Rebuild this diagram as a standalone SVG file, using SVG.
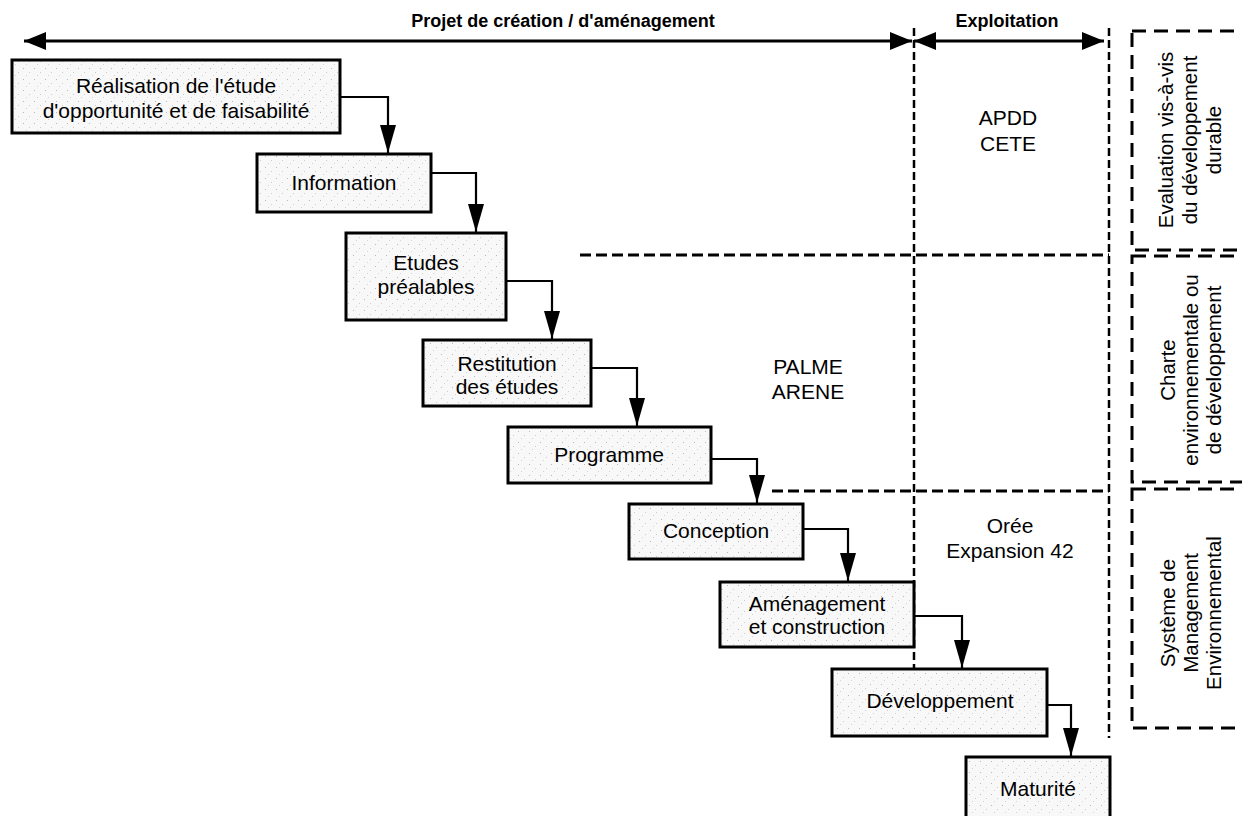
<svg xmlns="http://www.w3.org/2000/svg" width="1242" height="816" viewBox="0 0 1242 816">
<style>
.box{fill:url(#stip);stroke:#000;stroke-width:3}
.t{font-family:"Liberation Sans",Arial,sans-serif;font-size:21px;fill:#000;text-anchor:middle}
.r{font-family:"Liberation Sans",Arial,sans-serif;font-size:20.5px;fill:#000;text-anchor:middle}
.tb{font-family:"Liberation Sans",Arial,sans-serif;font-size:18px;font-weight:bold;fill:#000;text-anchor:middle}
.conn{fill:none;stroke:#000;stroke-width:2.2}
.vd{fill:none;stroke:#000;stroke-width:2.5;stroke-dasharray:8 4}
.hd{fill:none;stroke:#000;stroke-width:3;stroke-dasharray:11 5}
.rd{fill:none;stroke:#000;stroke-width:3;stroke-dasharray:14 8}
.span{fill:none;stroke:#000;stroke-width:3}
</style>
<defs>
<pattern id="stip" width="11" height="11" patternUnits="userSpaceOnUse">
<rect width="11" height="11" fill="#f8f8f8"/>
<rect x="1" y="2" width="1" height="1" fill="#b8b8b8"/>
<rect x="7" y="6" width="1" height="1" fill="#cccccc"/>
<rect x="4" y="9" width="1" height="1" fill="#d4d4d4"/>
</pattern>
<marker id="ah" markerWidth="28" markerHeight="16" refX="28" refY="8" orient="auto" markerUnits="userSpaceOnUse">
<path d="M0,0 L28,8 L0,16 Z" fill="#000"/>
</marker>
<marker id="sh" markerWidth="22" markerHeight="18" refX="22" refY="9" orient="auto-start-reverse" markerUnits="userSpaceOnUse">
<path d="M0,0 L22,9 L0,18 Z" fill="#000"/>
</marker>
</defs>

<g id="phases">
<line class="span" x1="24" y1="41" x2="912" y2="41" marker-start="url(#sh)" marker-end="url(#sh)"/>
<line class="span" x1="914" y1="41" x2="1104" y2="41" marker-start="url(#sh)" marker-end="url(#sh)"/>
<text class="tb" x="563" y="27">Projet de création / d'aménagement</text>
<text class="tb" x="1007" y="27">Exploitation</text>
</g>

<g id="zones">
<line class="vd" x1="914" y1="28" x2="914" y2="668"/>
<line class="vd" x1="1109" y1="28" x2="1109" y2="738"/>
<line class="hd" x1="580" y1="255" x2="1109" y2="255"/>
<line class="hd" x1="772" y1="491" x2="1109" y2="491"/>
<text class="t" x="1008" y="125">APDD</text>
<text class="t" x="1008" y="151">CETE</text>
<text class="t" x="808" y="374">PALME</text>
<text class="t" x="808" y="399">ARENE</text>
<text class="t" x="1010" y="533">Orée</text>
<text class="t" x="1010" y="558">Expansion 42</text>
</g>

<g id="tools">
<g id="tool-evaluation">
<rect class="rd" x="1132" y="31" width="130" height="219"/>
<text class="r" transform="translate(1173,140) rotate(-90)">Evaluation vis-à-vis</text>
<text class="r" transform="translate(1197,140) rotate(-90)">du développement</text>
<text class="r" transform="translate(1221,140) rotate(-90)">durable</text>
</g>
<g id="tool-charte">
<rect class="rd" x="1132" y="256" width="130" height="226"/>
<text class="r" transform="translate(1175,370) rotate(-90)">Charte</text>
<text class="r" transform="translate(1198,370) rotate(-90)">environnementale ou</text>
<text class="r" transform="translate(1221,370) rotate(-90)">de développement</text>
</g>
<g id="tool-sme">
<rect class="rd" x="1132" y="489" width="130" height="239"/>
<text class="r" transform="translate(1175,613) rotate(-90)">Système de</text>
<text class="r" transform="translate(1198,613) rotate(-90)">Management</text>
<text class="r" transform="translate(1221,613) rotate(-90)">Environnemental</text>
</g>
</g>

<g id="connectors">
<path class="conn" d="M340,97 H388 V153" marker-end="url(#ah)"/>
<path class="conn" d="M431,173 H476 V232" marker-end="url(#ah)"/>
<path class="conn" d="M506,281 H552 V339" marker-end="url(#ah)"/>
<path class="conn" d="M591,368 H637 V426" marker-end="url(#ah)"/>
<path class="conn" d="M711,459 H757 V503" marker-end="url(#ah)"/>
<path class="conn" d="M803,529 H848 V581" marker-end="url(#ah)"/>
<path class="conn" d="M914,616 H962 V668" marker-end="url(#ah)"/>
<path class="conn" d="M1047,705 H1071 V756" marker-end="url(#ah)"/>
</g>

<g id="n1"><rect class="box" x="12" y="60" width="328" height="73"/>
<text class="t" x="176" y="93">Réalisation de l'étude</text>
<text class="t" x="176" y="118">d'opportunité et de faisabilité</text></g>
<g id="n2"><rect class="box" x="257" y="154" width="174" height="58"/>
<text class="t" x="344" y="190">Information</text></g>
<g id="n3"><rect class="box" x="346" y="233" width="160" height="87"/>
<text class="t" x="426" y="270">Etudes</text>
<text class="t" x="426" y="294">préalables</text></g>
<g id="n4"><rect class="box" x="423" y="340" width="168" height="66"/>
<text class="t" x="507" y="371">Restitution</text>
<text class="t" x="507" y="394">des études</text></g>
<g id="n5"><rect class="box" x="508" y="427" width="203" height="56"/>
<text class="t" x="609" y="462">Programme</text></g>
<g id="n6"><rect class="box" x="629" y="504" width="174" height="55"/>
<text class="t" x="716" y="538">Conception</text></g>
<g id="n7"><rect class="box" x="720" y="582" width="194" height="65"/>
<text class="t" x="817" y="611">Aménagement</text>
<text class="t" x="817" y="634">et construction</text></g>
<g id="n8"><rect class="box" x="832" y="669" width="215" height="67"/>
<text class="t" x="940" y="708">Développement</text></g>
<g id="n9"><rect class="box" x="966" y="757" width="144" height="70"/>
<text class="t" x="1038" y="796">Maturité</text></g>
</svg>
